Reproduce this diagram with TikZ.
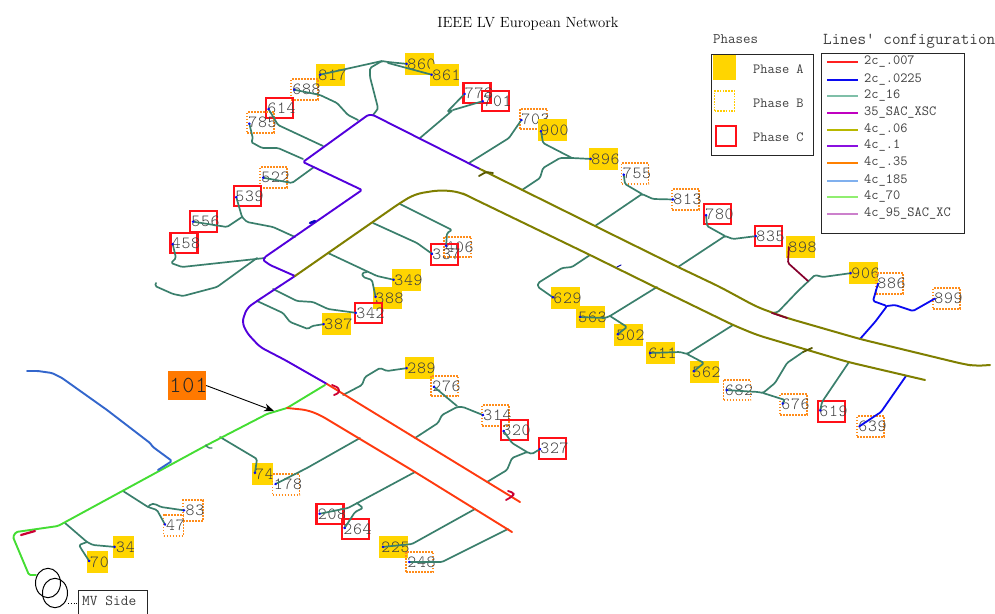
\documentclass[tikz,border=0pt]{standalone}
\usepackage{fontspec}
\newfontfamily\numfont[LetterSpace=4]{Latin Modern Mono Light}
\usetikzlibrary{arrows.meta}
\definecolor{phA}{HTML}{FFD500}
\definecolor{phB}{HTML}{FF8C1A}
\definecolor{phC}{HTML}{FF1018}
\definecolor{teal2}{HTML}{3A7F6C}
\definecolor{viol}{HTML}{5200DC}
\definecolor{oliv}{HTML}{7F7F00}
\definecolor{redo}{HTML}{FF3A10}
\definecolor{greenl}{HTML}{44DD33}
\definecolor{blue2}{HTML}{3366CC}
\definecolor{blue3}{HTML}{0A0AF0}
\definecolor{txt}{HTML}{404040}
\newcommand{\ttsize}[1]{\fontsize{#1}{#1}\selectfont\ttfamily}
\newcommand{\numsize}[1]{\fontsize{#1}{#1}\selectfont\numfont}
\tikzset{
  labelbase/.style={minimum height=20.5pt,minimum width=27pt,inner sep=0pt,text=txt,font=\numsize{17}},
  phaseA/.style={labelbase,fill=phA,minimum height=22pt,minimum width=29pt},
  phaseB/.style={labelbase,draw=phB,line width=1.9pt,dash pattern=on 1.7pt off 1.3pt},
  phaseC/.style={labelbase,draw=phC,line width=2.1pt},
  narrow/.style={minimum width=20pt},
  wire/.style={line width=1.7pt,rounded corners=1.5pt,line cap=round,line join=round},
  branch/.style={wire,teal2,-{Circle[length=2.4pt,color=blue3]}},
  fdviol/.style={wire,viol,line width=1.9pt},
  fdoliv/.style={wire,oliv,line width=2pt},
  fdred/.style={wire,redo,line width=1.9pt},
  fdgreen/.style={wire,greenl,line width=1.9pt},
  fdblue/.style={wire,blue2,line width=1.9pt},
  fdblu/.style={wire,blue3,line width=1.8pt},
  hook/.style={wire,line width=1.8pt,rounded corners=1.5pt},
  legrow/.style={line width=1.5pt},
  legtxt/.style={anchor=west,inner sep=0pt,text=txt,font=\ttsize{14}},
  legbox/.style={draw=black!85,line width=1.1pt},
  head/.style={anchor=west,inner sep=0pt,text=txt,font=\ttsize{#1}},
}
\newcommand{\lab}[5][]{\node[#2,#1] (n#5) at (#3,#4) {\makebox[10pt][c]{\hspace*{4pt}#5}}; \coordinate (e#5) at ([xshift=3]n#5.west);}
\begin{document}
\begin{tikzpicture}[x=1pt,y=-1pt]
\useasboundingbox (0,0) rectangle (995,613);
\node[inner sep=0pt,font=\fontsize{14.75}{15}\selectfont] (title) at (528,23.5) {IEEE LV European Network};
% ---- load labels
\lab{phaseA}{330.5}{75}{817}\lab{phaseA}{419.5}{64}{860}\lab{phaseA}{444.5}{75}{861}
\lab{phaseB}{304.5}{89.5}{688}\lab{phaseC}{279.5}{108}{614}\lab{phaseB}{260.5}{122.5}{785}
\lab{phaseB}{273.5}{177.5}{522}\lab{phaseC}{247.5}{196}{539}\lab{phaseC}{203.5}{221.5}{556}
\lab{phaseC}{184}{243}{458}\lab{phaseB}{457.5}{247}{406}\lab{phaseC}{444.5}{254.5}{337}
\lab{phaseA}{406.5}{280}{349}\lab{phaseA}{387.5}{298}{388}\lab{phaseC}{368.5}{313}{342}
\lab{phaseA}{336.5}{324}{387}\lab{phaseA}{419.5}{368}{289}\lab{phaseB}{444.5}{386}{276}
\lab{phaseB}{495.5}{415.5}{314}\lab{phaseC}{514.5}{430}{320}\lab{phaseC}{552.5}{448.5}{327}
\lab{phaseC}{330}{514}{208}\lab{phaseC}{355.5}{529}{264}\lab{phaseA}{393.5}{547}{225}
\lab{phaseB}{419.5}{562}{248}\lab[narrow,minimum width=21pt]{phaseA}{262.5}{474}{74}\lab{phaseB}{286}{484.5}{178}
\lab[narrow]{phaseB}{193}{510.5}{83}\lab[narrow]{phaseB}{173.5}{525.5}{47}
\lab[narrow,minimum width=21pt]{phaseA}{123.5}{547}{34}\lab[narrow,minimum width=21pt]{phaseA}{97.5}{562}{70}
\lab{phaseC}{477}{93}{778}\lab{phaseC}{495.5}{101}{701}\lab{phaseB}{533.5}{119}{703}
\lab{phaseA}{552.5}{130}{900}\lab{phaseA}{603.5}{159}{896}\lab{phaseB}{635}{173.5}{755}
\lab{phaseB}{685.5}{199.5}{813}\lab{phaseC}{717.5}{214}{780}\lab{phaseC}{768.5}{236}{835}
\lab{phaseA}{800.5}{247}{898}\lab{phaseA}{863.5}{273}{906}\lab{phaseB}{889.5}{283.5}{886}
\lab{phaseB}{946.5}{298.5}{899}\lab{phaseA}{565.5}{298}{629}\lab{phaseA}{590.5}{317}{563}
\lab{phaseA}{628.5}{335}{502}\lab{phaseA}{660.5}{353}{611}\lab{phaseA}{704.5}{372}{562}
\lab{phaseB}{737}{390}{682}\lab{phaseB}{793.5}{404.5}{676}\lab{phaseC}{831.5}{411.5}{619}
\lab{phaseB}{870.5}{426.5}{639}
% ---- branches
\draw[branch] (123,491) -- (148,507) -- (157,510) -- (e47);
\draw[branch] (148,507) -- (151,504) -- (155,504) -- (161,507) -- (e83);
\draw[branch] (65,523) -- (87,542) -- (93,545) -- (e34);
\draw[branch] (87,542) -- (79,545) -- (82,550) -- (e70);
\draw[branch] (220,437) -- (257,459) -- (e74);
\draw[branch] (360,438) -- (307,468) -- (e178);
\draw[branch] (343,395) -- (362,385) -- (365,377) -- (380,368) -- (387,371) -- (e289);
\draw[branch] (415,438) -- (438,423) -- (442,415) -- (457,407) -- (463,407) -- (e314);
\draw[branch] (457,406) -- (e276);
\draw[branch] (415,472) -- (348,508) -- (e208);
\draw[branch] (357,503) -- (363,508) -- (355,512) -- (e264);
\draw[branch] (475,509) -- (412,544) -- (e225);
\draw[branch] (508,529) -- (442,562) -- (e248);
\draw[branch] (487,482) -- (507,470) -- (512,458) -- (527,452) -- (532,454) -- (e327);
\draw[branch] (527,452) -- (512,443) -- (e320);
\draw[branch] (273,289) -- (297,301) -- (313,302) -- (328,309) -- (e342);
\draw[branch] (257,301) -- (283,313) -- (290,322) -- (308,329) -- (312,326) -- (e387);
\draw[branch] (328,253) -- (377,276) -- (e349);
\draw[branch] (367,272) -- (362,273) -- (363,277) -- (372,280) -- (e388);
\draw[branch] (373,223) -- (417,243) -- (e337);
\draw[branch] (400,204) -- (452,230) -- (447,233) -- (e406);
\draw[branch] (265,258) -- (182,267) -- (171,263) -- (176,258) -- (e458);
\draw[wire,teal2] (257,258) -- (217,287) -- (183,296) -- (173,294) -- (155,286) -- (156,283);
\draw[branch] (295,237) -- (273,227) -- (247,222) -- (242,217) -- (e539);
\draw[branch] (242,217) -- (227,227) -- (e556);
\draw[branch] (314,167) -- (292,183) -- (e522);
\draw[branch] (303,159) -- (278,148) -- (262,148) -- (251,142) -- (253,139) -- (e785);
\draw[branch] (323,146) -- (278,125) -- (e614);
\draw[branch] (358,120) -- (348,115) -- (337,103) -- (320,95) -- (e688);
\draw[wire,teal2] (373,115) -- (377,110) -- (378,108) -- (370,77) -- (370,68) -- (382,61) -- (388,62);
\draw[branch] (388,62) -- (e860);
\draw[branch] (388,63) -- (e861);
\draw[branch] (382,61) -- (e817);
\draw[branch] (420,138) -- (453,110) -- (447,112) -- (e778);
\draw[branch] (453,110) -- (480,102) -- (e701);
\draw[branch] (469,163) -- (509,138) -- (e703);
\draw[branch] (522,190) -- (540,178) -- (543,168) -- (560,158) -- (572,158) -- (e896);
\draw[branch] (572,158) -- (543,143) -- (e900);
\draw[branch] (595,226) -- (642,194) -- (653,199) -- (e813);
\draw[branch] (642,194) -- (625,184) -- (e755);
\draw[branch] (678,267) -- (725,236) -- (733,239) -- (e835);
\draw[branch] (725,236) -- (707,226) -- (e780);
\draw[branch] (590,255) -- (572,267) -- (562,268) -- (538,283) -- (538,287) -- (e629);
\draw[branch] (657,287) -- (610,316) -- (605,318) -- (e563);
\draw[branch] (610,316) -- (627,327) -- (e502);
\draw[branch] (733,325) -- (687,354) -- (680,352) -- (e611);
\draw[branch] (687,354) -- (704,363) -- (e562);
\draw[branch] (772,313) -- (778,312) -- (798,291) -- (815,275) -- (823,277) -- (e906);
\draw[wire,purple!70!black] (808,281) -- (788,263) -- (e898);
\draw[branch] (803,352) -- (787,363) -- (775,383) -- (763,393) -- (758,392) -- (e682);
\draw[branch] (763,393) -- (785,400) -- (e676);
\draw[branch] (849,362) -- (822,402) -- (e619);
\draw[fdblu] (860,339) -- (875,322) -- (887,306) -- (873,301) -- (e886);
\draw[fdblu] (887,306) -- (895,305) -- (913,311) -- (e899);
\draw[fdblu] (906,376) -- (881,412) -- (e639);
% ---- feeders
\draw[fdgreen] (36,575) -- (29,575) -- (13,537) -- (16,532) -- (58,526) -- (207,445) -- (267,414) -- (287,408) -- (325,385);
\draw[fdblue] (27,371) -- (38,371) -- (52,373) -- (62,378) -- (107,410) -- (150,443) -- (153,447) -- (172,461) -- (158,470);
\draw[wire,teal2,line width=1.4pt] (206,445) -- (208,448) -- (212,448);
\draw[fdviol,rounded corners=5pt] (327,384) -- (285,360) -- (260,347) -- (247,333) -- (242,322) -- (247,308) -- (257,301) -- (295,276);
\draw[fdviol] (295,276) -- (270,265) -- (263,260) -- (265,257) -- (362,190) -- (303,162) -- (368,115) -- (373,115) -- (480,169);
\draw[fdoliv,rounded corners=8pt] (295,276) -- (400,203) -- (415,194) -- (440,190) -- (460,192) -- (470,197) -- (590,255) -- (657,288) -- (733,325) -- (757,335) -- (848,362) -- (925,380);
\draw[fdoliv,rounded corners=8pt] (480,169) -- (595,226) -- (678,267) -- (720,287) -- (757,307) -- (787,318) -- (860,339) -- (963,364) -- (975,366) -- (990,365);
\draw[wire,purple!70!black] (772,313) -- (787,318);
\draw[fdred] (327,384) -- (520,502);
\draw[fdred,rounded corners=6pt] (287,408) -- (307,410) -- (320,415) -- (340,427) -- (415,472) -- (512,532);
\draw[hook,purple!80!red,rounded corners=2.5pt] (332,385) -- (339,388) -- (339,393) -- (334,395);
\draw[hook,purple!80!red,rounded corners=2.5pt] (508,491) -- (514,493) -- (513,496) -- (506,500);
\draw[hook,purple!80!red,line width=2.2pt] (21,535) -- (35,531);
\draw[hook,oliv!70!black] (479,176) -- (486,172) -- (493,173);
\draw[hook,oliv!70!black] (803,352) -- (812,348);
\draw[hook,blue3!70!black,line width=1.1pt] (617,267) -- (621,265);
\draw[hook,blue3!80!black,line width=2.4pt] (310,223) -- (315,221);
% ---- marker 101
\node[fill=orange!95!red,minimum width=38pt,minimum height=29pt,inner sep=0pt,text=txt!60!black,font=\numsize{23}] (n101) at (187,385.5) {\makebox[10pt][c]{\hspace*{3pt}101}};
\coordinate (c101) at (274,411);
\draw[-{Stealth[length=10pt,width=8pt]},line width=0.9pt] (n101.east) -- (c101);
% ---- transformer
\draw[line width=1pt] (48,583) ellipse [x radius=12.5,y radius=14.7];
\draw[line width=1pt] (55,593) ellipse [x radius=12.5,y radius=14.7];
\node[draw=black!85,line width=1pt,anchor=north west,minimum width=69pt,minimum height=30pt,text=txt,font=\ttsize{15},inner sep=0pt] (mv) at (77.5,589.5) {};
\node[anchor=west,inner sep=0pt,text=txt,font=\ttsize{15}] (mvt) at (82,601) {MV Side};
\coordinate (tx) at (68,603);
\draw[dotted,line width=0.8pt] (tx) -- (tx -| mv.west);
% ---- legends
\node[head=14.5] (hp) at (713,39) {Phases};
\node[head=16.7] (hl) at (823,41) {Lines' configuration};
\node[legbox,anchor=north west,minimum width=102pt,minimum height=101pt,inner sep=0pt] (pbox) at (711,53.5) {};
\node[fill=phA,minimum width=23pt,minimum height=25pt,inner sep=0pt] (sa) at (724.5,67.5) {};
\node[draw=phA!90!orange,line width=1.7pt,dash pattern=on 1.6pt off 1.2pt,minimum width=20pt,minimum height=20pt,inner sep=0pt] (sb) at (724.5,101) {};
\node[draw=phC,line width=2pt,minimum width=20pt,minimum height=20pt,inner sep=0pt] (sc) at (725.5,135.5) {};
\node[legtxt] (pa) at (753,69) {Phase A};
\node[legtxt] (pb) at (753,103) {Phase B};
\node[legtxt] (pc) at (753,137) {Phase C};
\node[legbox,anchor=north west,minimum width=143pt,minimum height=180pt,inner sep=0pt] (lbox) at (821,53) {};
\foreach \yy/\cc/\tt in {62/FF2020/2c\_.007,80/0A0AF0/2c\_.0225,96/7FBFA8/2c\_16,113/C000C0/35\_SAC\_XSC,130/B8B800/4c\_.06,146/8A10E0/4c\_.1,163/FF8000/4c\_.35,181/80B0EE/4c\_185,197/90EE70/4c\_70,214/CC80CC/4c\_95\_SAC\_XC}{
  \definecolor{cc}{HTML}{\cc}
  \coordinate (la) at (827,\yy);
  \coordinate (lb) at (858,\yy);
  \draw[legrow,cc] (la) -- (lb);
  \node[legtxt] at (864,\yy) {\tt};
}
\end{tikzpicture}
\end{document}
